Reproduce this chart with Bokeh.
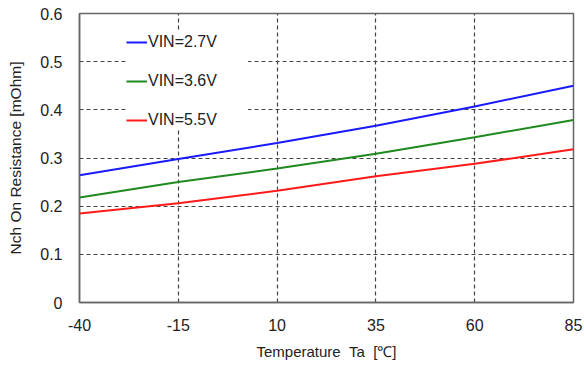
from bokeh.plotting import figure
from bokeh.models import Legend, LegendItem, FixedTicker, Range1d
from bokeh.embed import file_html
from bokeh.resources import INLINE

temps = [-40, -15, 10, 35, 60, 85]
vin_27 = [0.264, 0.298, 0.331, 0.367, 0.407, 0.450]
vin_36 = [0.218, 0.250, 0.278, 0.309, 0.343, 0.379]
vin_55 = [0.185, 0.206, 0.232, 0.262, 0.288, 0.318]
labels = ["VIN=2.7V", "VIN=3.6V", "VIN=5.5V"]
colors = ["#1a1aff", "#1f8a1f", "#ff1a1a"]
x_ticks = [-40, -15, 10, 35, 60, 85]
x_tick_labels = ["-40", "-15", "10", "35", "60", "85"]
y_ticks = [0, 0.1, 0.2, 0.3, 0.4, 0.5, 0.6]

FONT = "Liberation Sans"
NB = "\u00a0"

p = figure(width=584, height=365, output_backend="svg", toolbar_location=None,
           x_range=Range1d(-40, 85), y_range=Range1d(0, 0.6),
           min_border_left=79, min_border_right=11, min_border_top=13, min_border_bottom=63)

renderers = []
for ys, c in zip([vin_27, vin_36, vin_55], colors):
    r = p.line(temps, ys, line_color=c, line_width=2)
    renderers.append(r)

legend = Legend(items=[LegendItem(label=l, renderers=[r]) for l, r in zip(labels, renderers)],
                location=(47, 172), orientation="vertical",
                border_line_color=None, background_fill_color="white", background_fill_alpha=1,
                padding=15, margin=0, spacing=19,
                glyph_width=21, glyph_height=20, label_height=20, label_width=100,
                label_standoff=1,
                label_text_font=FONT, label_text_font_size="16px", label_text_color="#222222")
p.add_layout(legend, "center")

p.xaxis.ticker = FixedTicker(ticks=x_ticks)
p.xaxis.major_label_overrides = {t: s for t, s in zip(x_ticks, x_tick_labels)}
p.yaxis.ticker = FixedTicker(ticks=y_ticks)
p.yaxis.major_label_overrides = {0: "0"}
for ax in [p.xaxis[0], p.yaxis[0]]:
    ax.major_tick_line_color = None
    ax.minor_tick_line_color = None
    ax.axis_line_color = "#666666"
    ax.axis_line_width = 1.5
    ax.major_label_text_font = FONT
    ax.major_label_text_font_size = "16px"
    ax.major_label_text_color = "#222222"
    ax.axis_label_text_font = FONT
    ax.axis_label_text_font_style = "normal"
    ax.axis_label_text_color = "#222222"
p.xaxis.axis_label_text_font_size = "15px"
p.yaxis.axis_label_text_font_size = "15.5px"
p.xaxis.major_label_standoff = 10
p.yaxis.major_label_standoff = 11
p.xaxis.axis_label = "Temperature" + NB * 2 + "Ta" + NB * 2 + "[\u2103]"
p.yaxis.axis_label = "Nch On Resistance [mOhm]"
p.xaxis.axis_label_standoff = 9
p.yaxis.axis_label_standoff = 13

p.grid.grid_line_color = "#444444"
p.grid.grid_line_dash = "4 3"
p.grid.grid_line_width = 1.2

p.outline_line_color = "#666666"
p.outline_line_width = 1.5

open("out.html", "w").write(file_html(p, INLINE))
